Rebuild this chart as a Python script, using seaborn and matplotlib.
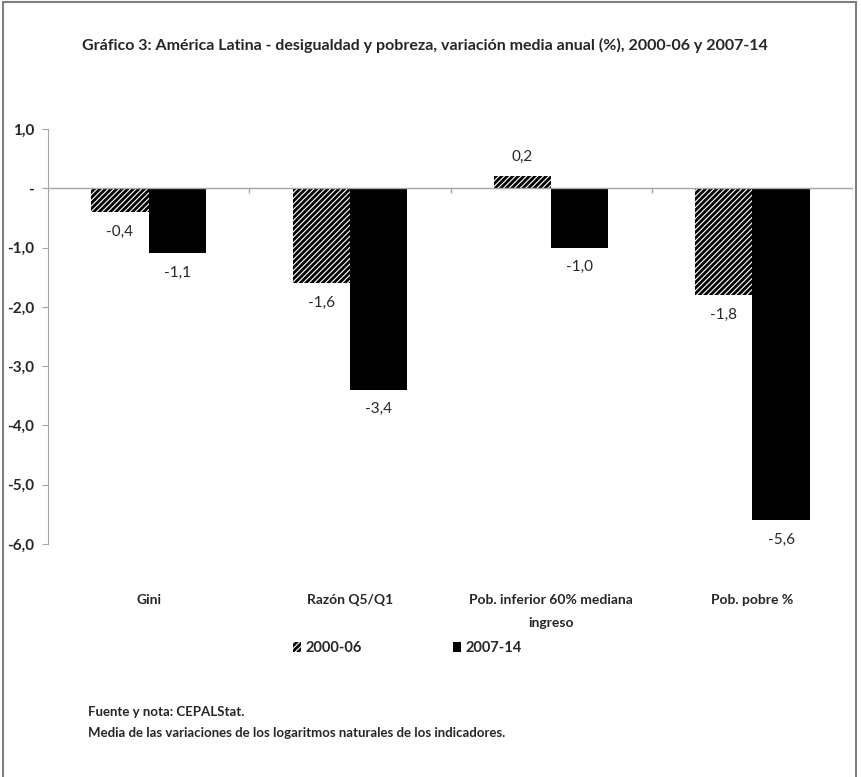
import pandas as pd
import seaborn as sns
import matplotlib.pyplot as plt
from matplotlib.patches import Patch, Rectangle

categorias = ["Gini", "Razón Q5/Q1", "Pob. inferior 60% mediana\ningreso", "Pob. pobre %"]
periodos = ["2000-06", "2007-14"]
v_2000_06 = [-0.4, -1.6, 0.2, -1.8]
v_2007_14 = [-1.1, -3.4, -1.0, -5.6]
yticks = [1, 0, -1, -2, -3, -4, -5, -6]

df = pd.DataFrame({
    "categoria": categorias * 2,
    "periodo": [periodos[0]] * 4 + [periodos[1]] * 4,
    "valor": v_2000_06 + v_2007_14,
})

sns.set_style("white")
plt.rcParams["font.family"] = ["Lato", "DejaVu Sans"]
plt.rcParams["hatch.linewidth"] = 2.0

gris = "#a6a6a6"

fig = plt.figure(figsize=(8.61, 7.77), dpi=100)
ax = fig.add_axes([48 / 861, 1 - 544 / 777, (853 - 48) / 861, (544 - 129) / 777])

sns.barplot(data=df, x="categoria", y="valor", hue="periodo", palette=["white", "black"],
            width=0.57, linewidth=0, saturation=1, legend=False, ax=ax)

# hatch en la primera serie, como el grafico de excel
for barra in ax.containers[0]:
    barra.set_hatch("//////")
    barra.set_edgecolor("black")
    barra.set_linewidth(0)

for cont in ax.containers:
    ax.bar_label(cont, labels=[f"{b.get_height():.1f}".replace(".", ",") for b in cont],
                 padding=9, fontsize=11)

ax.set_xlim(-0.5, len(categorias) - 0.5)
ax.set_ylim(-6, 1)
ax.set_yticks(yticks)
ax.set_yticklabels(["-" if t == 0 else f"{t:.1f}".replace(".", ",") for t in yticks],
                   fontsize=11, fontweight="bold")
ax.tick_params(axis="y", length=4, color=gris, left=True, pad=6)
ax.tick_params(axis="x", length=0, pad=36, labelsize=10)
for lab in ax.get_xticklabels():
    lab.set_fontweight("bold")
    lab.set_linespacing(2.1)
ax.set_xlabel("")
ax.set_ylabel("")

for lado in ["top", "right", "bottom"]:
    ax.spines[lado].set_visible(False)
ax.spines["left"].set_color(gris)
ax.axhline(0, color=gris, lw=1)
ax.vlines([i - 0.5 for i in range(len(categorias) + 1)], 0, -0.08, color=gris, lw=1)

handles = [Patch(facecolor="white", edgecolor="black", hatch="//////", lw=0),
           Patch(facecolor="black", lw=0)]
fig.legend(handles, periodos, loc="center", bbox_to_anchor=(0.473, 1 - 648 / 777), ncol=2,
           frameon=False, handlelength=0.6, handleheight=0.7, handletextpad=0.3,
           columnspacing=6.2, prop={"size": 10.5, "weight": "bold"})

fig.text(82 / 861, 1 - 45 / 777,
         "Gráfico 3: América Latina - desigualdad y pobreza, variación media anual (%), 2000-06 y 2007-14",
         fontsize=11.5, fontweight="bold", va="center")
fig.text(88 / 861, 1 - 712 / 777, "Fuente y nota: CEPALStat.", fontsize=9.5, fontweight="bold", va="center")
fig.text(88 / 861, 1 - 733 / 777, "Media de las variaciones de los logaritmos naturales de los indicadores.",
         fontsize=9.5, fontweight="bold", va="center")

fig.patches.append(Rectangle((3 / 861, -0.02), 853 / 861, 1.02 - 2 / 777, transform=fig.transFigure,
                             fill=False, edgecolor="#7f7f7f", lw=1.5))

fig.savefig("out.png", dpi=100)
